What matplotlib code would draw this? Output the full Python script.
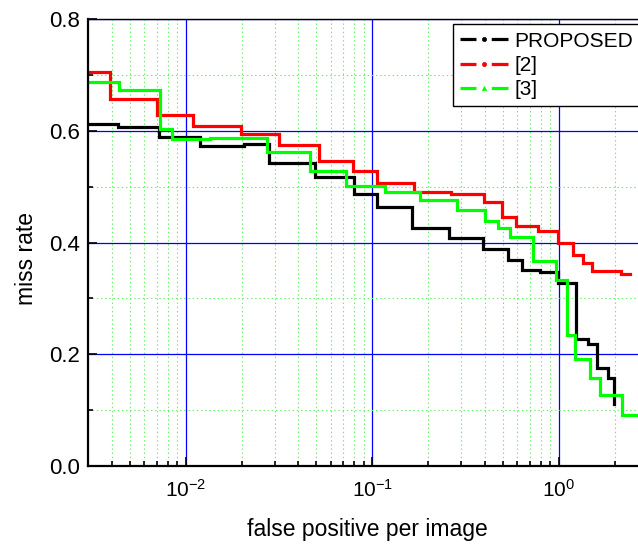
import matplotlib
matplotlib.use("Agg")
import matplotlib.pyplot as plt
from matplotlib.lines import Line2D
from matplotlib.ticker import LogLocator, LogFormatterMathtext, MultipleLocator, FormatStrFormatter, NullFormatter

plt.rcParams['font.family'] = ['Liberation Sans', 'DejaVu Sans']
plt.rcParams['mathtext.fontset'] = 'custom'
plt.rcParams['mathtext.rm'] = 'Liberation Sans'
plt.rcParams['mathtext.it'] = 'Liberation Sans:italic'
plt.rcParams['mathtext.bf'] = 'Liberation Sans:bold'
plt.rcParams['lines.scale_dashes'] = False

# ---- data (step curves: x = start of each level, y = level) ----
proposed_x = [0.00300, 0.00435, 0.00722, 0.01194, 0.0204, 0.0278, 0.0493, 0.0798, 0.1064,
              0.163, 0.259, 0.391, 0.537, 0.633, 0.794, 0.991, 1.238, 1.43, 1.60, 1.845, 1.98]
proposed_y = [0.612, 0.608, 0.589, 0.573, 0.576, 0.543, 0.517, 0.487, 0.463,
              0.427, 0.409, 0.388, 0.369, 0.351, 0.347, 0.328, 0.227, 0.218, 0.175, 0.157, 0.111]

ref2_x = [0.00300, 0.00393, 0.00702, 0.01094, 0.01977, 0.0318, 0.0518, 0.0789, 0.1061,
          0.1665, 0.266, 0.395, 0.4935, 0.5866, 0.776, 0.994, 1.196, 1.35, 1.509, 2.15, 2.41]
ref2_y = [0.706, 0.657, 0.628, 0.609, 0.594, 0.574, 0.546, 0.528, 0.506,
          0.491, 0.488, 0.473, 0.446, 0.429, 0.421, 0.399, 0.377, 0.364, 0.350, 0.343, 0.343]

ref3_x = [0.00300, 0.00440, 0.00728, 0.00844, 0.01342, 0.0271, 0.0464, 0.0725, 0.1168,
          0.180, 0.283, 0.404, 0.4695, 0.550, 0.724, 0.967, 1.104, 1.223, 1.472, 1.665, 2.177, 3.0]
ref3_y = [0.687, 0.673, 0.603, 0.585, 0.587, 0.563, 0.529, 0.501, 0.490,
          0.476, 0.458, 0.438, 0.426, 0.410, 0.368, 0.334, 0.235, 0.191, 0.158, 0.127, 0.091, 0.091]

series_names = ['PROPOSED', '[2]', '[3]']
series_colors = ['#000000', '#ff0000', '#00ff00']
series_markers = ['o', 'o', '^']

xlabel = 'false positive per image'
ylabel = 'miss rate'

W, H = 638, 545
fig = plt.figure(figsize=(W / 100, H / 100), dpi=100)
ax = fig.add_axes([88.3 / W, (H - 466) / H, (647.7 - 88.3) / W, (466 - 19.3) / H])

ax.set_xscale('log')
ax.set_xlim(0.003, 3.0)
ax.set_ylim(0.0, 0.8)

ax.set_axisbelow(True)
ax.grid(which='major', color='#0000ff', linewidth=0.9, linestyle='-')
ax.grid(which='minor', color='#66ee66', linewidth=0.8, linestyle=(0, (1, 2)))

for xs, ys, c in zip([proposed_x, ref2_x, ref3_x], [proposed_y, ref2_y, ref3_y], series_colors):
    ax.step(xs, ys, where='post', color=c, linewidth=2.3, solid_joinstyle='miter')

ax.xaxis.set_major_locator(LogLocator(base=10, numticks=10))
ax.xaxis.set_minor_locator(LogLocator(base=10, subs=range(2, 10), numticks=20))
ax.xaxis.set_major_formatter(LogFormatterMathtext())
ax.xaxis.set_minor_formatter(NullFormatter())
ax.yaxis.set_major_locator(MultipleLocator(0.2))
ax.yaxis.set_minor_locator(MultipleLocator(0.1))
ax.yaxis.set_major_formatter(FormatStrFormatter('%.1f'))

ax.tick_params(which='both', direction='in', top=False, right=False, width=1.2, color='black')
ax.tick_params(which='major', length=6.5)
ax.tick_params(which='minor', length=3.3)
ax.tick_params(axis='x', which='major', labelsize=15, pad=9)
ax.tick_params(axis='y', which='major', labelsize=16, pad=6)

for s in ['left', 'bottom']:
    ax.spines[s].set_linewidth(1.6)
ax.spines['top'].set_linewidth(1.0)

fig.text(33 / W, 1 - 258.5 / H, ylabel, rotation=90, rotation_mode='anchor',
         ha='center', va='baseline', fontsize=16.5)
fig.text(367.5 / W, 1 - 536 / H, xlabel, ha='center', va='baseline', fontsize=16.5)

handles = [Line2D([], [], color=c, linewidth=2.3, linestyle=(0, (11.5, 11.0, 40, 10)),
                  marker=m, markersize=3, markeredgewidth=0.5)
           for c, m in zip(series_colors, series_markers)]
leg = ax.legend(handles, series_names, loc='upper left',
                bbox_to_anchor=(453 / W, 1 - 24.3 / H), bbox_transform=fig.transFigure,
                fontsize=15, frameon=True, fancybox=False, framealpha=1,
                edgecolor='black', handlelength=2.3, handletextpad=0.29,
                labelspacing=0.25, borderpad=0.35, numpoints=1, borderaxespad=0)
leg.get_frame().set_linewidth(1.0)

fig.savefig('out.png', dpi=100)
